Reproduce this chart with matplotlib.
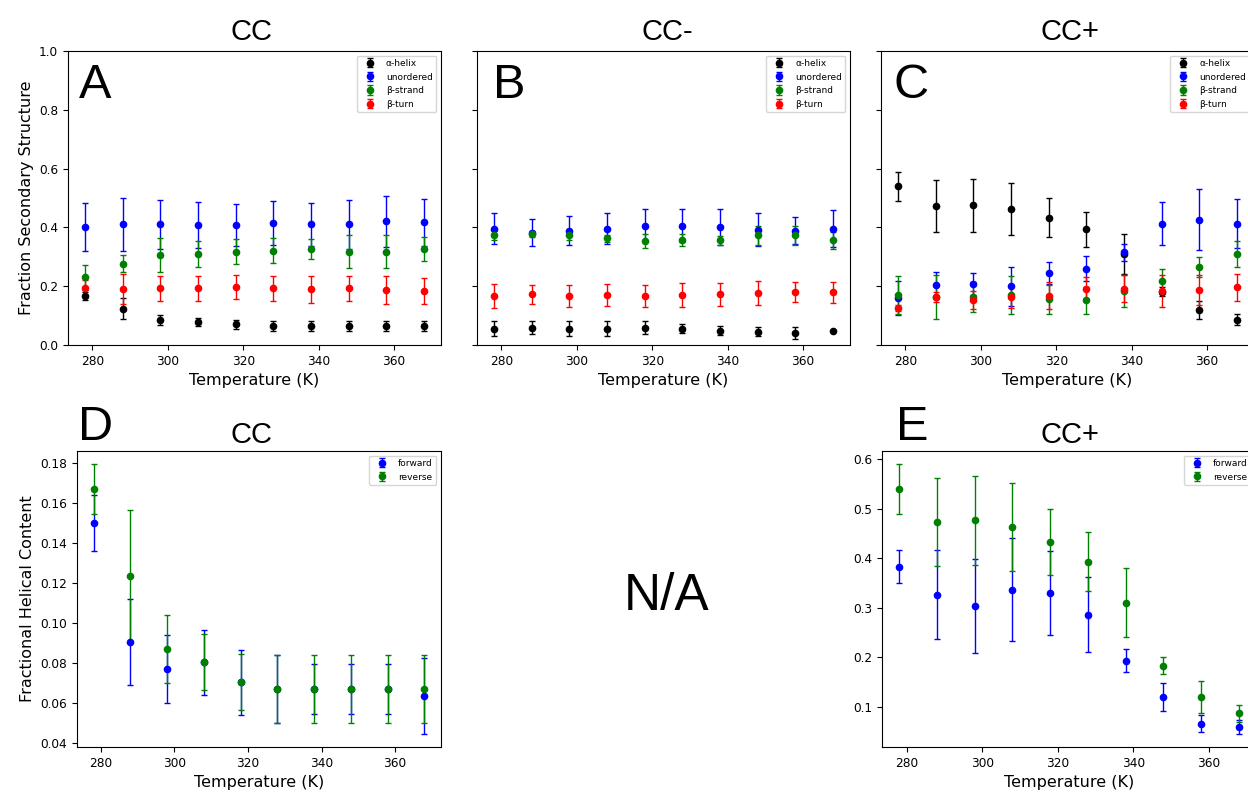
import matplotlib
matplotlib.use("Agg")
import matplotlib.pyplot as plt

W, H = 1248, 795
TITLE_FONT = "Liberation Sans"

temps = [278, 288, 298, 308, 318, 328, 338, 348, 358, 368]
labels = ["\u03b1-helix", "unordered", "\u03b2-strand", "\u03b2-turn"]
colors = ["black", "blue", "green", "red"]

# panel A: CC
cc_helix = [0.167, 0.124, 0.085, 0.078, 0.070, 0.066, 0.066, 0.066, 0.066, 0.066]
cc_helix_err = [0.014, 0.035, 0.017, 0.014, 0.014, 0.017, 0.017, 0.017, 0.017, 0.017]
cc_unord = [0.402, 0.410, 0.410, 0.407, 0.407, 0.414, 0.410, 0.410, 0.421, 0.417]
cc_unord_err = [0.081, 0.090, 0.082, 0.078, 0.071, 0.075, 0.072, 0.082, 0.086, 0.079]
cc_strand = [0.230, 0.277, 0.306, 0.311, 0.317, 0.321, 0.327, 0.317, 0.317, 0.327]
cc_strand_err = [0.043, 0.030, 0.057, 0.044, 0.042, 0.042, 0.035, 0.056, 0.056, 0.041]
cc_turn = [0.193, 0.190, 0.193, 0.193, 0.196, 0.193, 0.190, 0.193, 0.187, 0.184]
cc_turn_err = [0.027, 0.050, 0.043, 0.043, 0.041, 0.043, 0.046, 0.043, 0.047, 0.043]

# panel B: CC-
ccm_helix = [0.056, 0.059, 0.056, 0.056, 0.059, 0.056, 0.049, 0.045, 0.042, 0.049]
ccm_helix_err = [0.024, 0.022, 0.024, 0.024, 0.022, 0.015, 0.014, 0.015, 0.020, 0.0]
ccm_unord = [0.396, 0.382, 0.389, 0.396, 0.406, 0.406, 0.402, 0.392, 0.389, 0.396]
ccm_unord_err = [0.054, 0.046, 0.050, 0.054, 0.057, 0.057, 0.061, 0.056, 0.046, 0.062]
ccm_strand = [0.373, 0.379, 0.373, 0.363, 0.353, 0.356, 0.356, 0.373, 0.373, 0.356]
ccm_strand_err = [0.015, 0.010, 0.015, 0.012, 0.024, 0.020, 0.015, 0.033, 0.033, 0.028]
ccm_turn = [0.166, 0.172, 0.166, 0.169, 0.166, 0.169, 0.172, 0.176, 0.179, 0.179]
ccm_turn_err = [0.041, 0.033, 0.037, 0.037, 0.037, 0.041, 0.040, 0.040, 0.034, 0.036]

# panel C: CC+
ccp_helix = [0.540, 0.473, 0.476, 0.463, 0.433, 0.393, 0.310, 0.181, 0.119, 0.086]
ccp_helix_err = [0.050, 0.088, 0.090, 0.088, 0.067, 0.059, 0.068, 0.016, 0.032, 0.018]
ccp_unord = [0.161, 0.203, 0.207, 0.200, 0.246, 0.260, 0.315, 0.413, 0.426, 0.413]
ccp_unord_err = [0.058, 0.047, 0.037, 0.067, 0.037, 0.044, 0.030, 0.074, 0.103, 0.082]
ccp_strand = [0.170, 0.162, 0.163, 0.169, 0.156, 0.152, 0.184, 0.217, 0.266, 0.310]
ccp_strand_err = [0.063, 0.075, 0.052, 0.064, 0.049, 0.045, 0.054, 0.042, 0.034, 0.043]
ccp_turn = [0.126, 0.163, 0.153, 0.164, 0.167, 0.190, 0.192, 0.184, 0.186, 0.196]
ccp_turn_err = [0.010, 0.016, 0.030, 0.037, 0.046, 0.042, 0.046, 0.055, 0.051, 0.047]

# panel D: CC helical content
d_forward = [0.150, 0.0902, 0.0768, 0.0802, 0.0702, 0.0668, 0.0668, 0.0668, 0.0668, 0.0635]
d_forward_err = [0.014, 0.0216, 0.017, 0.0163, 0.0163, 0.017, 0.0124, 0.0124, 0.0124, 0.019]
d_reverse = [0.1667, 0.1233, 0.0868, 0.0802, 0.0702, 0.0668, 0.0668, 0.0668, 0.0668, 0.0668]
d_reverse_err = [0.0125, 0.033, 0.017, 0.014, 0.014, 0.017, 0.017, 0.017, 0.017, 0.017]

# panel E: CC+ helical content
e_forward = [0.383, 0.326, 0.303, 0.336, 0.330, 0.286, 0.193, 0.120, 0.066, 0.060]
e_forward_err = [0.033, 0.090, 0.095, 0.104, 0.085, 0.076, 0.023, 0.029, 0.017, 0.014]
e_reverse = [0.539, 0.473, 0.476, 0.463, 0.433, 0.393, 0.310, 0.183, 0.120, 0.087]
e_reverse_err = [0.050, 0.088, 0.090, 0.088, 0.067, 0.059, 0.070, 0.017, 0.033, 0.017]

fig = plt.figure(figsize=(W / 100, H / 100), dpi=100)


def axes_px(left, top, right, bottom):
    return fig.add_axes([left / W, 1 - bottom / H, (right - left) / W, (bottom - top) / H])


def text_px(x, y, s, size, ha="left"):
    fig.text(x / W, 1 - y / H, s, fontsize=size, family=TITLE_FONT, ha=ha, va="baseline")


def draw(ax, series, errs, names, cols):
    for ys, es, nm, c in zip(series, errs, names, cols):
        ax.errorbar(temps, ys, yerr=es, fmt="o", color=c, ms=4.5, capsize=2.2,
                    elinewidth=1.0, capthick=1.0, label=nm)
    ax.legend(loc=1, fontsize=6.5)
    ax.set_xticks([280, 300, 320, 340, 360])
    ax.tick_params(labelsize=8.7)
    ax.set_xlabel("Temperature (K)", fontsize=11.5)


axA = axes_px(68, 51, 441, 345)
axB = axes_px(477, 51, 850, 345)
axC = axes_px(881, 51, 1254, 345)
axD = axes_px(77, 451, 441, 747)
axE = axes_px(882, 451, 1256, 747)

draw(axA, [cc_helix, cc_unord, cc_strand, cc_turn],
     [cc_helix_err, cc_unord_err, cc_strand_err, cc_turn_err], labels, colors)
draw(axB, [ccm_helix, ccm_unord, ccm_strand, ccm_turn],
     [ccm_helix_err, ccm_unord_err, ccm_strand_err, ccm_turn_err], labels, colors)
draw(axC, [ccp_helix, ccp_unord, ccp_strand, ccp_turn],
     [ccp_helix_err, ccp_unord_err, ccp_strand_err, ccp_turn_err], labels, colors)
draw(axD, [d_forward, d_reverse], [d_forward_err, d_reverse_err],
     ["forward", "reverse"], ["blue", "green"])
draw(axE, [e_forward, e_reverse], [e_forward_err, e_reverse_err],
     ["forward", "reverse"], ["blue", "green"])

for ax in (axA, axB, axC):
    ax.set_ylim(0, 1.0)
    ax.set_yticks([0.0, 0.2, 0.4, 0.6, 0.8, 1.0])
for ax in (axB, axC):
    ax.set_yticklabels([])
axA.set_ylabel("Fraction Secondary Structure", fontsize=11.5)
axD.set_ylabel("Fractional Helical Content", fontsize=11.5)
axD.set_yticks([0.04, 0.06, 0.08, 0.10, 0.12, 0.14, 0.16, 0.18])

# titles and panel letters
text_px(252, 40, "CC", 21, ha="center")
text_px(667, 40, "CC-", 21, ha="center")
text_px(1070, 40, "CC+", 21, ha="center")
text_px(252, 443, "CC", 21, ha="center")
text_px(1070, 443, "CC+", 21, ha="center")

text_px(79, 98, "A", 35)
text_px(493, 98, "B", 35)
text_px(894, 98, "C", 35)
text_px(78, 440, "D", 35)
text_px(896, 440, "E", 35)
text_px(667, 610, "N/A", 37, ha="center")

fig.savefig("out.png", dpi=100)
